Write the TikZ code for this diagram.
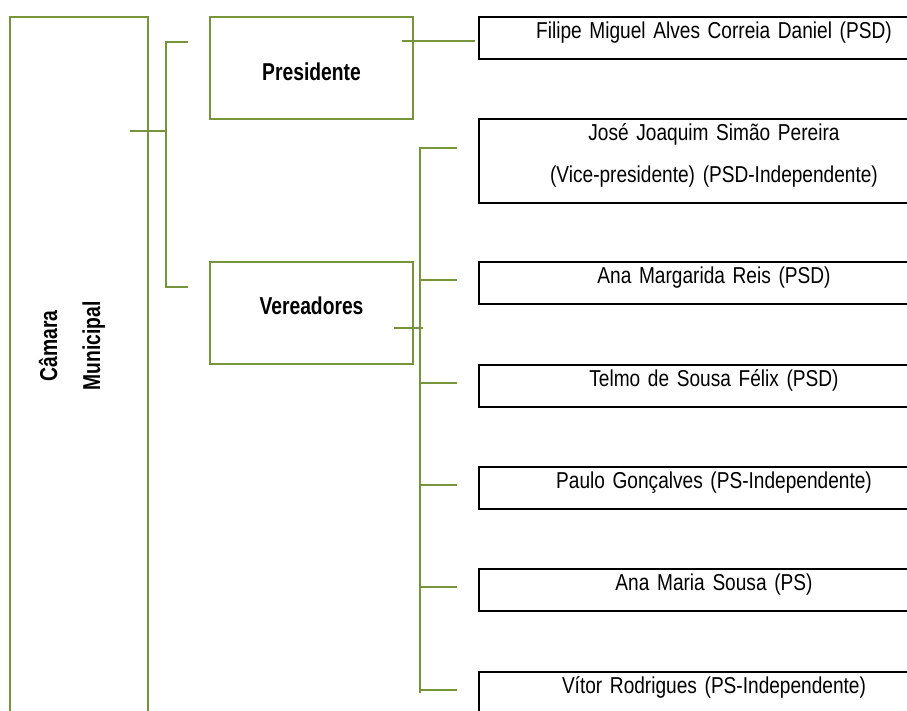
\documentclass[tikz,border=0pt]{standalone}
\usepackage{fontspec}
\setmainfont{Liberation Sans}
\newfontfamily\namefont[FakeStretch=0.83]{Liberation Sans}
\newfontfamily\rolefont[FakeStretch=0.79]{Liberation Sans}
\usetikzlibrary{positioning}
\definecolor{olivegreen}{RGB}{119,147,60}

\begin{document}
\begin{tikzpicture}[x=0.5pt,y=-0.5pt, every node/.style={outer sep=0pt},
    greenbox/.style={draw=olivegreen, line width=1.2pt, inner sep=0pt},
    rolebox/.style={greenbox, minimum width=101.5pt, minimum height=51pt,
      font=\rolefont\bfseries\fontsize{12.2}{14}\selectfont},
    namebox/.style={draw=black, line width=1pt, inner sep=0pt, text width=235pt,
      align=center, text height=11pt, text depth=10pt,
      font=\namefont\fontsize{11.5}{20.7}\selectfont},
    twig/.style={draw=olivegreen, line width=1pt}]

  \useasboundingbox (0,0) rectangle (907,711);
  \clip (0,0) rectangle (907,711);

  \node[greenbox, anchor=north west, minimum width=69pt, minimum height=380pt] (camara) at (10,17) {};
  \node[rotate=90, align=center, font=\rolefont\bfseries\fontsize{12.2}{21.5}\selectfont] (camtxt) at (72,346) {Câmara\\Municipal};

  \node[rolebox, anchor=north west, text height=13pt, text depth=0pt] (pres) at (210,17) {Presidente};
  \node[rolebox, below=71.5pt of pres, text height=9pt, text depth=7pt] (ver) {Vereadores};

  \node[namebox, anchor=north west] (filipe) at (479,17) {Filipe Miguel Alves Correia Daniel (PSD)};
  \node[namebox, below=30pt of filipe, text depth=31pt] (jose) {José Joaquim Simão Pereira\\(Vice-presidente) (PSD-Independente)};
  \node[namebox, below=29.5pt of jose] (anamarg) {Ana Margarida Reis (PSD)};
  \node[namebox, below=30.5pt of anamarg] (telmo) {Telmo de Sousa Félix (PSD)};
  \node[namebox, below=30pt of telmo] (paulo) {Paulo Gonçalves (PS-Independente)};
  \node[namebox, below=30pt of paulo] (anams) {Ana Maria Sousa (PS)};
  \node[namebox, below=30.5pt of anams] (vitor) {Vítor Rodrigues (PS-Independente)};

  \coordinate (camstub) at (130,131);
  \coordinate (fork) at (166,131);
  \coordinate (forktop) at (188,42);
  \coordinate (forkbot) at (188,287);
  \draw[twig] (camstub) -- (fork);
  \draw[twig] (forktop) -- (forktop -| fork) -- (forkbot -| fork) -- (forkbot);

  \coordinate (presstub) at (402,41);
  \draw[twig, shorten >=2pt] (presstub) -- (presstub -| filipe.west);

  \coordinate (spine) at (420,148);
  \coordinate (josetick) at (457,148);
  \coordinate (verstub) at (394,328);
  \draw[twig] (josetick) -- (spine) -- (spine |- vitor.west);
  \draw[twig] (verstub) -- ([xshift=1.5pt]verstub -| spine);
  \foreach \who in {anamarg,telmo,paulo,anams,vitor}{
    \draw[twig, shorten >=11pt] ([yshift=1.5pt]\who.west -| spine) -- ([yshift=1.5pt]\who.west);
  }
\end{tikzpicture}
\end{document}
